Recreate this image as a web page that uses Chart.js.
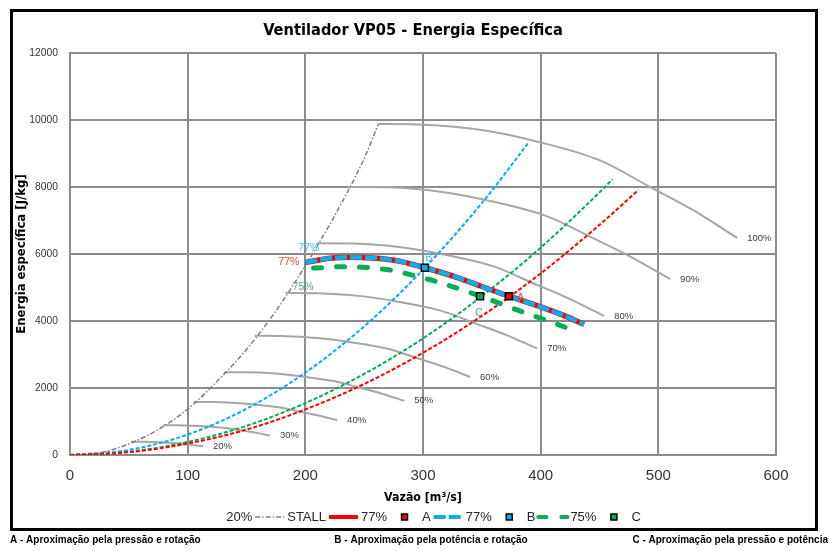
<!DOCTYPE html>
<html>
<head>
<meta charset="utf-8">
<script src="https://cdn.jsdelivr.net/npm/chart.js@4.4.0/dist/chart.umd.min.js"></script>
<style>
  html, body { margin: 0; padding: 0; background: #fff; }
  #wrap { width: 829px; height: 551px; }
</style>
</head>
<body>
<div id="wrap"><canvas id="chart" width="829" height="551"></canvas></div>
<script>
const TITLE = 'Ventilador VP05 - Energia Específica';
const X_TITLE = 'Vazão [m³/s]';
const Y_TITLE = 'Energia específica [J/kg]';
const FOOTNOTES = [
  'A - Aproximação pela pressão e rotação',
  'B - Aproximação pela potência e rotação',
  'C - Aproximação pela pressão e potência'
];

// rotation curves (% of nominal speed)
const ROT_LABELS = ['100%', '90%', '80%', '70%', '60%', '50%', '40%', '30%', '20%'];
const rot100Q = [262, 300, 350, 400, 450, 493, 530, 567];
const rot100E = [9880, 9860, 9700, 9330, 8800, 8000, 7300, 6480];
const rot90Q = [236, 270, 315, 360, 405, 444, 477, 510];
const rot90E = [8000, 7990, 7860, 7560, 7130, 6480, 5910, 5250];
const rot80Q = [210, 240, 280, 320, 360, 394, 424, 454];
const rot80E = [6320, 6310, 6210, 5970, 5630, 5120, 4670, 4150];
const rot70Q = [183, 210, 245, 280, 315, 345, 371, 397];
const rot70E = [4840, 4830, 4750, 4570, 4310, 3920, 3580, 3180];
const rot60Q = [157, 180, 210, 240, 270, 296, 318, 340];
const rot60E = [3560, 3550, 3490, 3360, 3170, 2880, 2630, 2330];
const rot50Q = [131, 150, 175, 200, 225, 247, 265, 284];
const rot50E = [2470, 2470, 2430, 2330, 2200, 2000, 1830, 1620];
const rot40Q = [105, 120, 140, 160, 180, 197, 212, 227];
const rot40E = [1580, 1580, 1550, 1490, 1410, 1280, 1170, 1040];
const rot30Q = [79, 90, 105, 120, 135, 148, 159, 170];
const rot30E = [890, 890, 870, 840, 790, 720, 660, 580];
const rot20Q = [52, 60, 70, 80, 90, 99, 106, 113];
const rot20E = [400, 395, 390, 375, 350, 320, 290, 260];

// stall line
const stallQ = [0, 25, 50, 75, 100, 125, 150, 175, 200, 225, 250, 262];
const stallE = [0, 60, 330, 760, 1370, 2200, 3150, 4300, 5650, 7150, 8850, 9880];

// operating curves
const op77Q = [200, 221, 238, 257, 278, 301.6, 330, 350, 373, 400, 420, 437];
const op77E = [5750, 5870, 5900, 5880, 5800, 5590, 5290, 5030, 4740, 4420, 4160, 3900];
const op75Q = [207, 232, 252, 272, 291, 312, 349, 380, 405, 427];
const op75E = [5580, 5620, 5600, 5520, 5370, 5170, 4740, 4330, 4020, 3730];

// system curves through A, B, C
const sysAQ = [0, 50, 100, 150, 200, 250, 300, 350, 400, 450, 483];
const sysAE = [0, 85, 340, 760, 1360, 2120, 3050, 4150, 5420, 6870, 7910];
const sysBQ = [0, 50, 100, 150, 200, 250, 300, 350, 390];
const sysBE = [0, 150, 610, 1380, 2460, 3840, 5530, 7520, 9340];
const sysCQ = [0, 50, 100, 150, 200, 250, 300, 350, 400, 450, 461];
const sysCE = [0, 97, 390, 870, 1550, 2420, 3480, 4740, 6190, 7840, 8230];

const pointA = [373, 4740];
const pointB = [301.6, 5590];
const pointC = [348.5, 4740];

const NARROW = '"Liberation Sans Narrow", "DejaVu Sans Condensed", "Liberation Sans", sans-serif';
const SANS = '"Liberation Sans", Arial, sans-serif';
const RED = '#ff0000', BLUE = '#00b0f0', GREEN = '#00b050', GRAY = '#a6a6a6';

const pts = (qs, es) => qs.map((q, i) => ({ x: q, y: es[i] }));
const ROT = [[rot100Q, rot100E], [rot90Q, rot90E], [rot80Q, rot80E], [rot70Q, rot70E], [rot60Q, rot60E],
             [rot50Q, rot50E], [rot40Q, rot40E], [rot30Q, rot30E], [rot20Q, rot20E]];

const curve = (label, data, color, width, dash, order, extra) => Object.assign({
  label, data, borderColor: color, backgroundColor: color, borderWidth: width, borderDash: dash,
  pointRadius: 0, fill: false, cubicInterpolationMode: 'monotone', order
}, extra || {});
const marker = (label, p, color) => ({
  label, data: [{ x: p[0], y: p[1] }], showLine: false, pointStyle: 'rect', pointRadius: 5,
  pointBackgroundColor: color, backgroundColor: color, pointBorderColor: '#000', borderColor: '#000',
  pointBorderWidth: 1.5, order: 0
});

const datasets = [
  ...ROT.map((c, i) => curve(ROT_LABELS[i], pts(c[0], c[1]), GRAY, 2, [], 6, { rotLabel: true })),
  curve('STALL', pts(stallQ, stallE), '#7f7f7f', 1.5, [5, 2, 1.5, 2], 5),
  curve('77%', pts(op77Q, op77E), RED, 5.5, [], 3),
  marker('A', pointA, RED),
  curve('77%', pts(op77Q, op77E), BLUE, 4.5, [12, 3], 2),
  marker('B', pointB, BLUE),
  curve('75%', pts(op75Q, op75E), GREEN, 5, [8, 15], 2, { borderCapStyle: 'round' }),
  marker('C', pointC, GREEN),
  curve('sysA', pts(sysAQ, sysAE), RED, 2, [4, 2], 4),
  curve('sysB', pts(sysBQ, sysBE), BLUE, 2, [4, 2], 4),
  curve('sysC', pts(sysCQ, sysCE), GREEN, 2, [4, 2], 4)
];
const LEGEND_ITEMS = [8, 9, 10, 11, 12, 13, 14, 15];

function text(ctx, s, x, y, font, color, align) {
  ctx.font = font;
  ctx.fillStyle = color;
  ctx.textAlign = align || 'left';
  ctx.textBaseline = 'middle';
  ctx.fillText(s, x, y);
}

const decorations = {
  id: 'decorations',
  beforeDraw(chart) {
    const ctx = chart.ctx;
    ctx.save();
    ctx.fillStyle = '#fff';
    ctx.fillRect(0, 0, chart.width, chart.height);
    ctx.restore();
  },
  afterDraw(chart) {
    const { ctx, scales: { x, y } } = chart;
    const px = (q, e) => [x.getPixelForValue(q), y.getPixelForValue(e)];
    ctx.save();

    text(ctx, TITLE, 413, 31, 'bold 16.3px ' + NARROW, '#000', 'center');

    // rotation labels at the end of each curve
    chart.data.datasets.forEach(ds => {
      if (!ds.rotLabel) return;
      const last = ds.data[ds.data.length - 1];
      const [lx, ly] = px(last.x, last.y);
      text(ctx, ds.label, lx + 10, ly, '9.5px ' + SANS, '#404040');
    });

    // operating curve labels
    let [sx, sy] = px(op77Q[0], op77E[0]);
    text(ctx, '77%', sx - 6, sy, '10.5px ' + SANS, '#ff3b3b', 'right');
    text(ctx, '77%', sx - 7, sy - 14, '10.5px ' + SANS, '#3cc8f5');
    [sx, sy] = px(op75Q[0], op75E[0]);
    text(ctx, '75%', sx - 21, sy + 19, '10.5px ' + SANS, '#5fa37a');

    let [mx, my] = px(pointA[0], pointA[1]);
    text(ctx, 'A', mx + 8, my + 2, '11px ' + SANS, '#ff3b3b');
    [mx, my] = px(pointB[0], pointB[1]);
    text(ctx, 'B', mx + 4, my - 10, '11px ' + SANS, '#3cc8f5', 'center');
    [mx, my] = px(pointC[0], pointC[1]);
    text(ctx, 'C', mx - 1, my + 17, '11px ' + SANS, '#5fa37a', 'center');

    // legend
    const lfont = '13px ' + SANS;
    ctx.font = lfont;
    const symW = 31, gap = 2, ly = 517;
    const items = LEGEND_ITEMS.map(i => chart.data.datasets[i]);
    const total = items.reduce((s, ds) => s + symW + gap + ctx.measureText(ds.label).width + gap, 0);
    let cx = 418 - total / 2;
    items.forEach((ds, i) => {
      if (ds.showLine === false) {
        ctx.fillStyle = ds.pointBackgroundColor;
        ctx.strokeStyle = '#000';
        ctx.lineWidth = 1.5;
        ctx.setLineDash([]);
        ctx.fillRect(cx + symW / 2 - 3, ly - 3, 6, 6);
        ctx.strokeRect(cx + symW / 2 - 3, ly - 3, 6, 6);
      } else if (i > 0) {
        ctx.strokeStyle = ds.borderColor;
        ctx.lineWidth = Math.min(ds.borderWidth, 4);
        ctx.lineCap = ds.borderCapStyle || 'butt';
        ctx.setLineDash(ds.borderDash || []);
        ctx.beginPath();
        ctx.moveTo(cx + 1, ly);
        ctx.lineTo(cx + symW - 1, ly);
        ctx.stroke();
        ctx.lineCap = 'butt';
      }
      ctx.setLineDash([]);
      text(ctx, ds.label, cx + symW + gap, ly, lfont, '#262626');
      cx += symW + gap + ctx.measureText(ds.label).width + gap;
    });

    // outer frame
    ctx.strokeStyle = '#000';
    ctx.lineWidth = 3;
    ctx.strokeRect(11.5, 10.5, 805, 519);

    // footnotes
    const ffont = 'bold 10px ' + SANS;
    text(ctx, FOOTNOTES[0], 10, 540, ffont, '#000', 'left');
    text(ctx, FOOTNOTES[1], 431, 540, ffont, '#000', 'center');
    text(ctx, FOOTNOTES[2], 828, 540, ffont, '#000', 'right');
    ctx.restore();
  }
};

const gridStyle = { color: '#8c8c8c', lineWidth: 2, drawTicks: false };
new Chart(document.getElementById('chart'), {
  type: 'line',
  data: { datasets },
  plugins: [decorations],
  options: {
    responsive: false,
    animation: false,
    layout: { padding: { left: 10, right: 53, top: 53, bottom: 46 } },
    plugins: { legend: { display: false }, tooltip: { enabled: false }, title: { display: false } },
    scales: {
      x: {
        type: 'linear', min: 0, max: 600,
        ticks: { stepSize: 100, padding: 12, color: '#333', font: { family: SANS, size: 15 }, callback: v => String(v) },
        grid: gridStyle,
        border: { color: '#8c8c8c', width: 2 },
        title: { display: true, text: X_TITLE, color: '#000', font: { family: NARROW, size: 12.3, weight: 'bold' }, padding: { top: 0, bottom: 0 } },
        afterFit: s => { s.height = 50; }
      },
      y: {
        type: 'linear', min: 0, max: 12000,
        ticks: { stepSize: 2000, padding: 12, color: '#333', font: { family: SANS, size: 10.3 }, callback: v => String(v) },
        grid: gridStyle,
        border: { color: '#8c8c8c', width: 2 },
        title: { display: true, text: Y_TITLE, color: '#000', font: { family: NARROW, size: 13, weight: 'bold' }, padding: { top: 4, bottom: 0 } },
        afterFit: s => { s.width = 60; }
      }
    }
  }
});
</script>
</body>
</html>
